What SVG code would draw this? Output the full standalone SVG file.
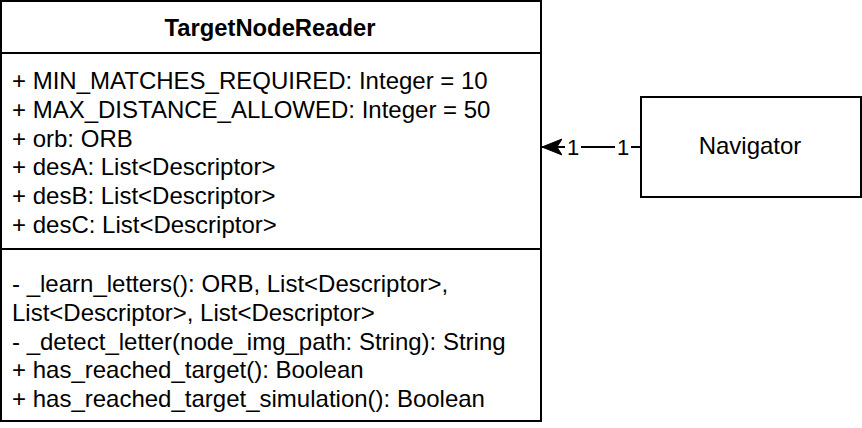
<svg xmlns="http://www.w3.org/2000/svg" width="862" height="428" viewBox="0 0 862 428">
<style>
.box{fill:#fff;stroke:#000;stroke-width:2}
.t{font-family:"Liberation Sans",Arial,sans-serif;font-size:24px;fill:#000}
.b{font-weight:bold;text-anchor:middle;font-size:23.8px}
.c{text-anchor:middle}
.lbl{font-family:"Liberation Sans",Arial,sans-serif;font-size:22px;fill:#000;text-anchor:middle}
</style>
<defs>
<marker id="arr" viewBox="0 0 20 20" refX="20" refY="10" markerWidth="20" markerHeight="20" markerUnits="userSpaceOnUse" orient="auto">
<path d="M20,10 L0,2 L5,10 L0,18 Z" fill="#000" stroke="#000" stroke-width="1"/>
</marker>
</defs>
<rect width="862" height="428" fill="#fff"/>
<g id="connectors">
<line x1="640" y1="147" x2="542" y2="147" stroke="#000" stroke-width="2" marker-end="url(#arr)"/>
<rect x="565" y="136" width="16" height="24" fill="#fff"/>
<text class="lbl" x="573" y="155">1</text>
<rect x="615" y="136" width="16" height="24" fill="#fff"/>
<text class="lbl" x="623" y="155">1</text>
</g>
<g id="TargetNodeReader">
<rect class="box" x="1" y="1" width="540" height="420"/>
<line x1="1" y1="53" x2="541" y2="53" stroke="#000" stroke-width="2"/>
<line x1="1" y1="249" x2="541" y2="249" stroke="#000" stroke-width="2"/>
<text class="t b" x="270" y="36">TargetNodeReader</text>
<text class="t" x="12" y="89">+ MIN_MATCHES_REQUIRED: Integer = 10</text>
<text class="t" x="12" y="117.7">+ MAX_DISTANCE_ALLOWED: Integer = 50</text>
<text class="t" x="12" y="146.5">+ orb: ORB</text>
<text class="t" x="12" y="175.2">+ desA: List&lt;Descriptor&gt;</text>
<text class="t" x="12" y="204">+ desB: List&lt;Descriptor&gt;</text>
<text class="t" x="12" y="232.7">+ desC: List&lt;Descriptor&gt;</text>
<text class="t" x="12" y="292">- _learn_letters(): ORB, List&lt;Descriptor&gt;,</text>
<text class="t" x="12" y="320.7">List&lt;Descriptor&gt;, List&lt;Descriptor&gt;</text>
<text class="t" x="12" y="349.5">- _detect_letter(node_img_path: String): String</text>
<text class="t" x="12" y="378.2">+ has_reached_target(): Boolean</text>
<text class="t" x="12" y="407">+ has_reached_target_simulation(): Boolean</text>
</g>
<g id="Navigator">
<rect class="box" x="641" y="97" width="220" height="100"/>
<text class="t c" x="750" y="154">Navigator</text>
</g>
</svg>
